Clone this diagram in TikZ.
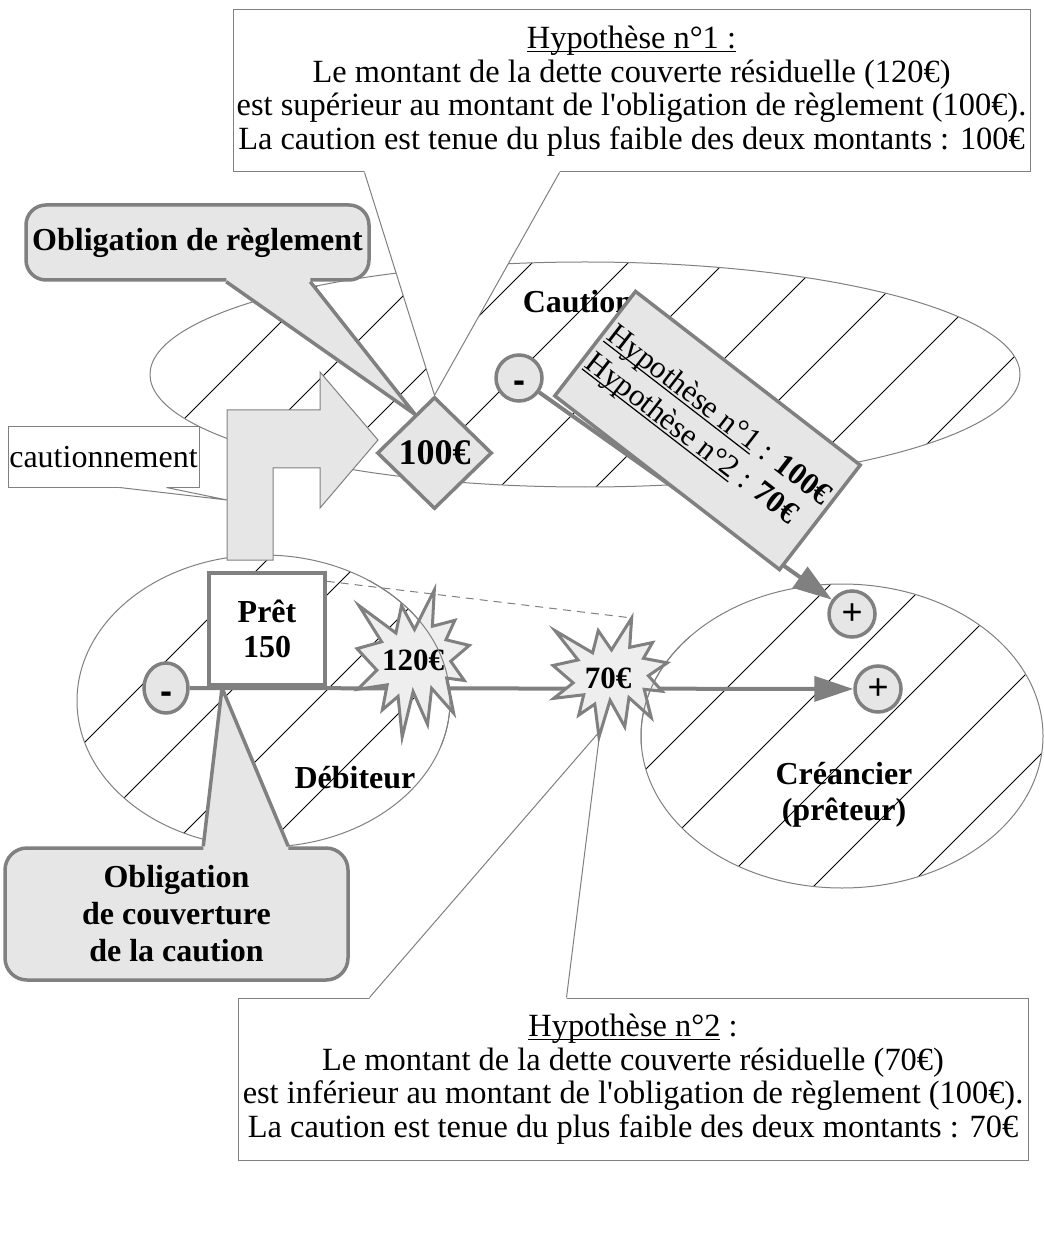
\documentclass[tikz,border=0pt]{standalone}
\usepackage{fontspec}
\setmainfont{Liberation Serif}[Ligatures=TeXOff]
\newfontfamily\sansf{Liberation Sans}
\usetikzlibrary{shapes.geometric,arrows.meta,calc}
\pgfdeclarelayer{back}
\pgfdeclarelayer{mid}
\pgfsetlayers{back,mid,main}
\definecolor{bord}{HTML}{808080}
\definecolor{fil}{HTML}{E6E6E6}
\definecolor{starfill}{HTML}{EEEEEE}
\newcommand\undl[1]{\setbox0\hbox{#1}\rlap{\rule[-1.8pt]{\wd0}{0.6pt}}\box0\relax}
\newcommand\minus{\smash{\raisebox{-7.5pt}{-}}}
\tikzset{
  hatch/.style={black, line width=0.45pt},
  ell/.style={draw=bord, line width=0.5pt},
  thinbox/.style={draw=bord, line width=0.5pt, fill=white, inner sep=0pt},
  thickbox/.style={draw=bord, line width=1.75pt, fill=fil, inner sep=0pt},
  thickline/.style={draw=bord, line width=1.75pt},
  signc/.style={circle, draw=bord, line width=1.75pt, fill=fil, minimum size=23pt, inner sep=0pt, font=\sansf\fontsize{18}{18}\selectfont},
  signm/.style={font=\sansf\bfseries\fontsize{18}{18}\selectfont},
  flow/.style={draw=bord, line width=2pt, -{Triangle[length=19.5pt,width=12.5pt]}},
  sealst/.style={draw=bord, fill=starfill, line width=1.5pt},
  lbl/.style={font=\bfseries\fontsize{16}{18}\selectfont, align=center, inner sep=0pt},
  boxtext/.style={font=\fontsize{16.2}{16.75}\selectfont, align=center},
  seal/.pic={\path[sealst] (50,26.85) -- (67.23,0) -- (65.53,24.65) -- (85.09,20.63) -- (77.32,33.87) -- (97.67,37.67) -- (81.51,48.50) -- (93.25,61.53) -- (77.95,59.92) -- (84.00,83.77) -- (64.91,66.93) -- (61.33,91.38) -- (48.76,69.14) -- (39.28,100) -- (35.72,72.35) -- (22.05,81.56) -- (26.24,64.52) -- (0.63,67.53) -- (17.23,54.51) -- (0,39.88) -- (21.42,35.26) -- (1.71,10.63) -- (33.85,29.26) -- (38.67,10.63) -- cycle;}
}
\begin{document}
\begin{tikzpicture}[x=0.5pt,y=-0.5pt]
\useasboundingbox (0,0) rectangle (1043,1234);

% ---------- ellipses with hatching ----------
\begin{pgfonlayer}{back}
\fill[white] (0,0) rectangle (1043,1234);
\begin{scope}
  \clip (585,374.5) ellipse [x radius=435, y radius=112.5];
  \foreach \c in {507,603,...,1371} \draw[hatch] ({\c-100},100) -- ({\c-600},600);
\end{scope}
\draw[ell] (585,374.5) ellipse [x radius=435, y radius=112.5];
\begin{scope}
  \clip (263.5,701) ellipse [x radius=186.5, y radius=146];
  \foreach \c in {827,922,...,1207} \draw[hatch] ({\c-500},500) -- ({\c-900},900);
\end{scope}
\draw[ell] (263.5,701) ellipse [x radius=186.5, y radius=146];
\begin{scope}
  \clip (842,736) ellipse [x radius=201, y radius=152];
  \foreach \c in {1415,1510,...,1795} \draw[hatch] ({\c-550},550) -- ({\c-950},950);
\end{scope}
\draw[ell] (842,736) ellipse [x radius=201, y radius=152];
\end{pgfonlayer}

% ---------- labels of the parties ----------
\node[lbl] (caution) at (578,302) {Caution};
\node[lbl] (debiteur) at (355,778) {Débiteur};
\node[lbl] (creancier) at (844,795) {Créancier\\(prêteur)};

% ---------- sign circles ----------
\node[signc, signm] (mu) at (519,378) {\minus};
\node[signc] (pu) at (852,614) {+};
\node[signc] (pl) at (878,689) {+};
\node[signc, signm, ellipse, minimum width=22pt, minimum height=25pt] (ml) at (166,688) {\minus};

% ---------- flows ----------
\draw[flow] (ml) -- (pl);
\draw[flow] (mu) -- (pu);

% ---------- explosions ----------
\pic[xscale=1.15, yscale=1.47] at (357,590) {seal};
\pic[xscale=1.17, yscale=1.19] at (553,618) {seal};
\node[lbl, font=\bfseries\fontsize{15.5}{15.5}\selectfont] (s120) at (413,660) {120€};
\node[lbl, font=\bfseries\fontsize{15.5}{15.5}\selectfont] (s70) at (608,678) {70€};
\coordinate (s70top) at (632,618);
\coordinate (s70bot) at (600,731);
\begin{scope}
  \clip (340,580) rectangle (690,745);
  \draw[ell] (263.5,701) ellipse [x radius=186.5, y radius=146];
  \draw[ell] (842,736) ellipse [x radius=201, y radius=152];
\end{scope}

% ---------- loan ----------
\node[draw=bord, line width=1.75pt, fill=white, minimum width=58pt, minimum height=56pt, lbl, font=\bfseries\fontsize{16}{17.5}\selectfont] (pret) at (267,629) {Prêt\\150};
\draw[bord, line width=0.5pt, dash pattern=on 4pt off 3pt] ($(pret.north east)+(0,10)$) -- (s70top);

% ---------- cautionnement arrow ----------
\draw[ell, fill=fil] (227,560) -- (227,410) -- (320,410) -- (320,372) -- (378,440) -- (320,508) -- (320,468) -- (273,468) -- (273,560) -- cycle;
\coordinate (stemleft) at (227,500);
\coordinate (tipoc) at (222,688);

% ---------- settlement obligation ----------
\node[diamond, draw=bord, line width=1.75pt, fill=fil, minimum width=57.5pt, minimum height=56pt, inner sep=0pt, font=\bfseries\fontsize{18}{18}\selectfont] (d100) at (434.5,453) {100€};

% ---------- rotated summary ----------
\node[thickbox, rotate=-37.7, minimum width=142pt, minimum height=66pt, align=left, inner sep=1pt, font=\fontsize{15.6}{17.5}\selectfont] (hyp) at (707.5,430.5) {\undl{Hypothèse n°1} : \textbf{100€}\\\undl{Hypothèse n°2} : \textbf{70€}};

% ---------- callouts ----------
\begin{pgfonlayer}{mid}
\node[thinbox, boxtext, minimum width=398.5pt, minimum height=81pt] (h1) at (631.5,91) {\undl{Hypothèse n°1 :}\\Le montant de la dette couverte résiduelle (120€)\\est supérieur au montant de l'obligation de règlement (100€).\\La caution est tenue du plus faible des deux montants : 100€};
\fill[white] ($(h1.south west)+(132,-1.5)$) -- ($(h1.south west)+(132,0)$) -- (d100.north) -- ($(h1.south west)+(327,0)$) -- ($(h1.south west)+(327,-1.5)$) -- cycle;
\draw[ell] ($(h1.south west)+(132,0)$) -- (d100.north) -- ($(h1.south west)+(327,0)$);

\node[thinbox, boxtext, minimum width=395pt, minimum height=81pt] (h2) at (633,1079) {\undl{Hypothèse n°2} :\\Le montant de la dette couverte résiduelle (70€)\\est inférieur au montant de l'obligation de règlement (100€).\\La caution est tenue du plus faible des deux montants : 70€};
\fill[white] ($(h2.north west)+(132,1.5)$) -- ($(h2.north west)+(132,0)$) -- (s70bot) -- ($(h2.north west)+(329,0)$) -- ($(h2.north west)+(329,1.5)$) -- cycle;
\draw[ell] ($(h2.north west)+(132,0)$) -- (s70bot) -- ($(h2.north west)+(329,0)$);

\node[thickbox, rounded corners=10pt, minimum width=171.5pt, minimum height=37.5pt, lbl] (oblr) at (197.5,242.5) {Obligation de règlement};
\fill[fil] ($(oblr.south west)+(202,-4)$) -- ($(oblr.south west)+(202,0)$) -- ($(d100.west)!0.67!(d100.north)$) -- ($(oblr.south west)+(286,0)$) -- ($(oblr.south west)+(286,-4)$) -- cycle;
\draw[thickline] ($(oblr.south west)+(202,0)$) -- ($(d100.west)!0.67!(d100.north)$) -- ($(oblr.south west)+(286,0)$);

\node[thickbox, rounded corners=11pt, minimum width=171.5pt, minimum height=66pt, lbl, font=\bfseries\fontsize{16}{18.5}\selectfont] (oblc) at (176.5,914) {Obligation\\de couverture\\de la caution};
\fill[fil] ($(oblc.north west)+(200,4)$) -- ($(oblc.north west)+(200,0)$) -- (tipoc) -- ($(oblc.north west)+(285,0)$) -- ($(oblc.north west)+(285,4)$) -- cycle;
\draw[thickline] ($(oblc.north west)+(200,0)$) -- (tipoc) -- ($(oblc.north west)+(285,0)$);

\node[thinbox, minimum width=95.5pt, minimum height=30pt, font=\fontsize{16}{16}\selectfont] (caut) at (103.5,457) {cautionnement};
\fill[white] ($(caut.south west)+(112,-1.5)$) -- ($(caut.south west)+(112,0)$) -- (stemleft) -- ($(caut.south west)+(159,0)$) -- ($(caut.south west)+(159,-1.5)$) -- cycle;
\draw[ell] ($(caut.south west)+(112,0)$) -- (stemleft) -- ($(caut.south west)+(159,0)$);
\end{pgfonlayer}
\end{tikzpicture}
\end{document}
